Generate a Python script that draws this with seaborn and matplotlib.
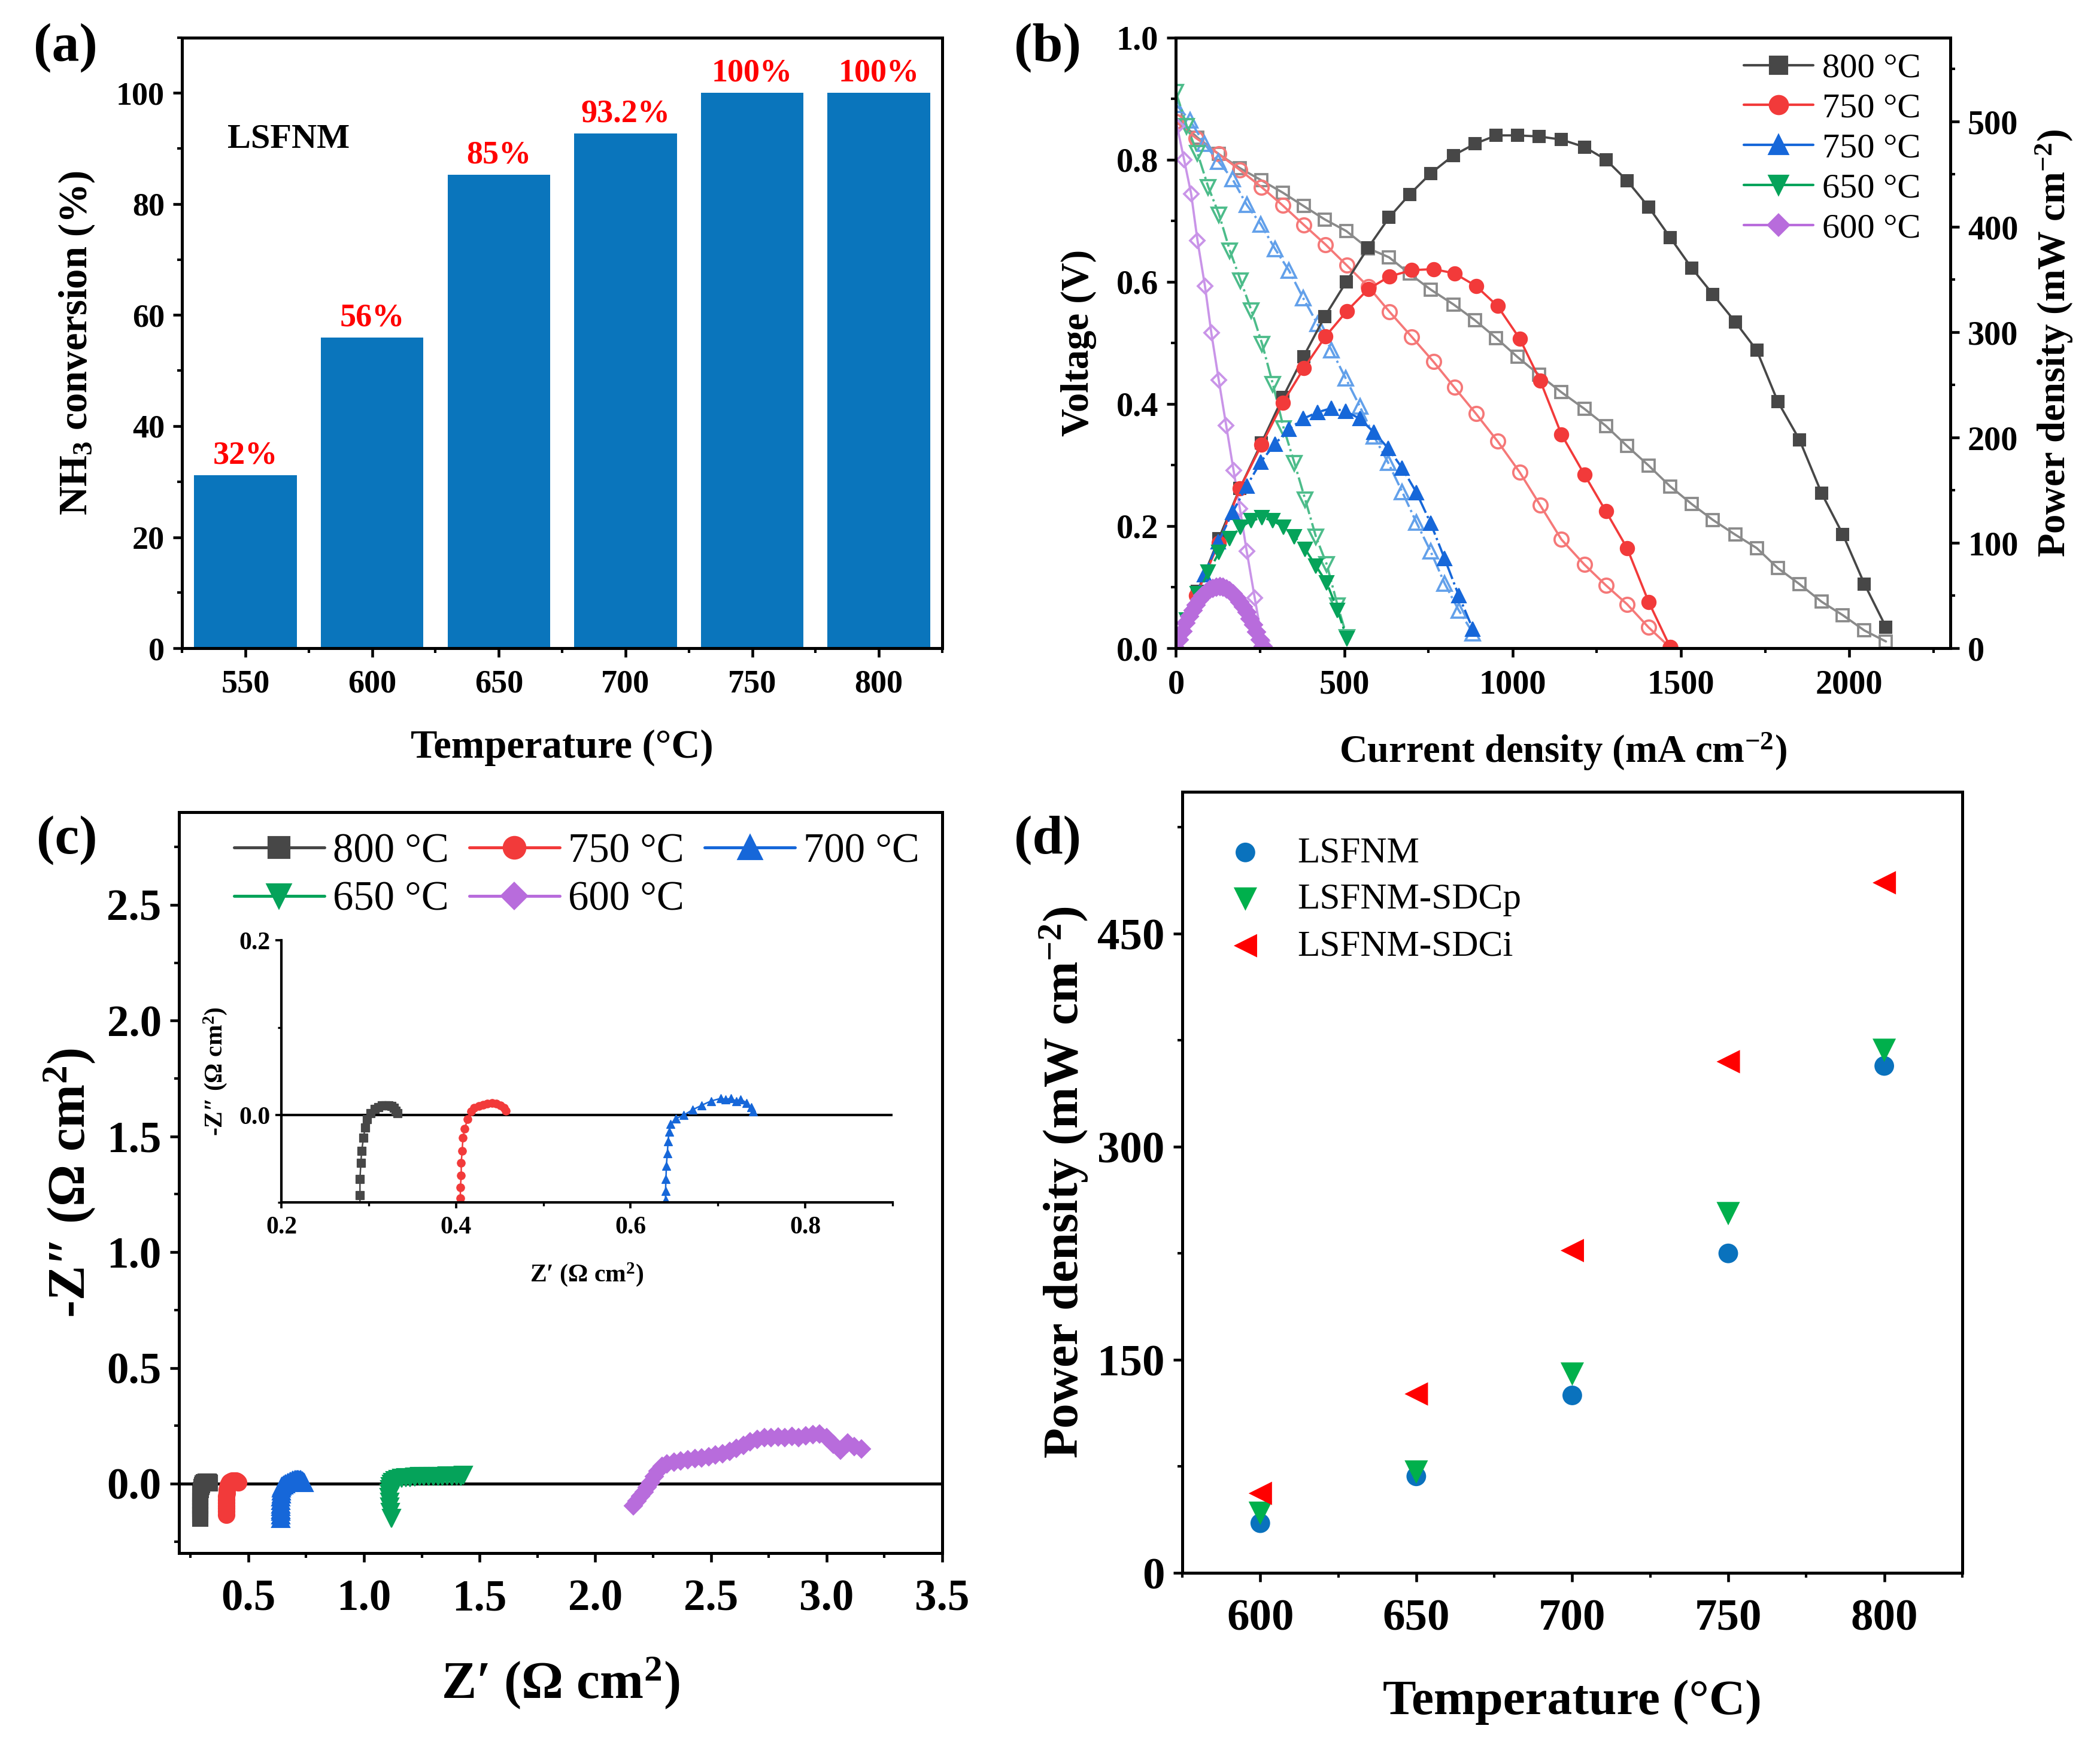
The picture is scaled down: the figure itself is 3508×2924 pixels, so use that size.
import numpy as np
import pandas as pd
import matplotlib
matplotlib.use('Agg')
import matplotlib.pyplot as plt
from matplotlib.lines import Line2D
from matplotlib.ticker import MultipleLocator, FormatStrFormatter
import seaborn as sns

sns.set_theme(style='ticks')
plt.rcParams.update({
    'font.family': ['Liberation Serif', 'DejaVu Serif'],
    'font.weight': 'bold',
    'axes.labelweight': 'bold',
    'mathtext.fontset': 'custom',
    'mathtext.rm': 'Liberation Serif:bold',
    'mathtext.it': 'Liberation Serif:italic:bold',
    'mathtext.bf': 'Liberation Serif:bold',
    'axes.edgecolor': 'black',
    'axes.labelcolor': 'black',
    'text.color': 'black',
    'xtick.color': 'black',
    'ytick.color': 'black',
    'axes.linewidth': 1.2,
    'xtick.direction': 'out',
    'ytick.direction': 'out',
    'xtick.major.size': 3.5,
    'ytick.major.size': 3.5,
    'xtick.minor.size': 2.0,
    'ytick.minor.size': 2.0,
    'xtick.major.width': 1.1,
    'ytick.major.width': 1.1,
    'xtick.minor.width': 1.0,
    'ytick.minor.width': 1.0,
})

# ---------------- data ----------------
# (a) NH3 conversion
temps_a = ['550', '600', '650', '700', '750', '800']
nh3_conv = [31.2, 56.0, 85.3, 92.7, 100.0, 100.0]
conv_labels = ['32%', '56%', '85%', '93.2%', '100%', '100%']

# (b) I-V-P curves (current mA cm-2, voltage V, power mW cm-2)
i_800 = [0, 64, 127, 190, 254, 317, 379, 442, 506, 570, 633, 694, 757, 824, 888, 951, 1014,
         1078, 1145, 1213, 1277, 1340, 1404, 1468, 1532, 1595, 1661, 1725, 1788, 1852, 1918,
         1981, 2045, 2109]
v_800 = [0.868, 0.836, 0.809, 0.786, 0.766, 0.746, 0.724, 0.702, 0.683, 0.655, 0.640, 0.613,
         0.587, 0.563, 0.537, 0.508, 0.477, 0.448, 0.419, 0.392, 0.364, 0.331, 0.299, 0.265,
         0.236, 0.210, 0.186, 0.164, 0.131, 0.105, 0.076, 0.054, 0.029, 0.011]
p_800 = [0, 54, 104, 152, 195, 238, 277, 315, 348, 380, 409, 431, 451, 468, 479, 487, 487, 486,
         483, 476, 464, 444, 419, 390, 361, 336, 310, 283, 234, 198, 147, 108, 61, 20]

i_750 = [0, 60, 127, 190, 254, 317, 380, 444, 507, 571, 634, 700, 765, 827, 891, 955, 1021,
         1082, 1145, 1213, 1277, 1340, 1404, 1468]
v_750 = [0.862, 0.835, 0.809, 0.783, 0.755, 0.725, 0.693, 0.661, 0.627, 0.592, 0.551, 0.510,
         0.469, 0.427, 0.384, 0.339, 0.288, 0.234, 0.178, 0.137, 0.103, 0.072, 0.034, 0.001]
p_750 = [0, 50, 100, 152, 193, 233, 266, 296, 320, 341, 353, 359, 360, 356, 344, 325, 294, 254,
         203, 165, 130, 95, 44, 1]

i_700 = [0, 42, 84, 126, 168, 210, 252, 294, 336, 378, 420, 462, 504, 546, 588, 630, 672, 714,
         756, 798, 840, 882]
v_700 = [0.890, 0.864, 0.826, 0.797, 0.768, 0.726, 0.694, 0.654, 0.618, 0.573, 0.531, 0.488,
         0.442, 0.396, 0.347, 0.304, 0.256, 0.206, 0.159, 0.106, 0.062, 0.025]
p_700 = [0, 37, 70, 101, 129, 154, 177, 194, 208, 218, 224, 228, 225, 218, 205, 190, 171, 148,
         119, 85, 50, 18]

i_650 = [0, 32, 64, 96, 128, 160, 192, 224, 256, 288, 320, 352, 384, 416, 448, 480, 508]
v_650 = [0.910, 0.855, 0.810, 0.755, 0.710, 0.651, 0.602, 0.553, 0.498, 0.432, 0.360, 0.303,
         0.243, 0.182, 0.137, 0.070, 0.018]
p_650 = [0, 27, 52, 72, 91, 104, 115, 121, 124, 121, 115, 106, 94, 78, 62, 36, 9]

i_600v = [3, 24, 45, 64, 86, 105, 127, 149, 171, 190, 210, 234, 256]
v_600 = [0.855, 0.800, 0.744, 0.667, 0.593, 0.516, 0.439, 0.365, 0.291, 0.228, 0.159, 0.082, 0.012]
i_600p = [0, 10, 20, 30, 40, 50, 60, 70, 80, 90, 100, 110, 120, 130, 140, 150, 160, 170, 180,
          190, 200, 210, 220, 230, 240, 250, 258]
p_600 = [0, 8, 16, 24, 30, 36, 41, 46, 50, 53, 55.5, 57, 58, 58.5, 58, 56.5, 54.5, 51.5, 48, 44,
         39.5, 34, 28, 22, 15.5, 8, 2]

# (c) Nyquist plots (Z' , -Z'')
zr_800 = [0.290, 0.290, 0.290, 0.290, 0.290, 0.290, 0.291, 0.292, 0.294, 0.296, 0.298, 0.302,
          0.307, 0.311, 0.315, 0.319, 0.323, 0.326, 0.329, 0.331, 0.333]
zi_800 = [-0.150, -0.135, -0.120, -0.105, -0.092, -0.073, -0.055, -0.041, -0.026, -0.014, -0.005,
          0.002, 0.007, 0.009, 0.011, 0.011, 0.011, 0.010, 0.008, 0.005, 0.002]
zr_750 = [0.405, 0.405, 0.405, 0.405, 0.405, 0.406, 0.406, 0.407, 0.408, 0.410, 0.413, 0.417,
          0.421, 0.426, 0.431, 0.436, 0.441, 0.446, 0.451, 0.455, 0.457]
zi_750 = [-0.135, -0.120, -0.105, -0.095, -0.083, -0.069, -0.055, -0.041, -0.026, -0.016, -0.005,
          0.004, 0.008, 0.010, 0.012, 0.013, 0.0135, 0.013, 0.011, 0.008, 0.005]
zr_700 = [0.640, 0.640, 0.640, 0.640, 0.640, 0.640, 0.6405, 0.641, 0.642, 0.643, 0.644, 0.646,
          0.652, 0.661, 0.671, 0.681, 0.692, 0.703, 0.709, 0.715, 0.721, 0.726, 0.733, 0.738, 0.740]
zi_700 = [-0.150, -0.135, -0.120, -0.110, -0.0975, -0.087, -0.073, -0.058, -0.044, -0.030, -0.019,
          -0.010, -0.004, 0.000, 0.006, 0.011, 0.016, 0.019, 0.018, 0.019, 0.016, 0.018, 0.014,
          0.009, 0.004]
zr_650 = [1.118, 1.115, 1.112, 1.110, 1.108, 1.108, 1.110, 1.113, 1.118, 1.125, 1.135, 1.148,
          1.162, 1.18, 1.20, 1.22, 1.24, 1.26, 1.28, 1.30, 1.32, 1.34, 1.36, 1.38, 1.40, 1.42, 1.43]
zi_650 = [-0.150, -0.125, -0.100, -0.080, -0.060, -0.042, -0.027, -0.014, -0.003, 0.006, 0.013,
          0.018, 0.022, 0.025, 0.027, 0.028, 0.030, 0.031, 0.030, 0.032, 0.031, 0.032, 0.033,
          0.031, 0.033, 0.032, 0.035]
zr_600 = [2.165, 2.18, 2.195, 2.21, 2.225, 2.24, 2.255, 2.27, 2.29, 2.31, 2.34, 2.37, 2.40, 2.43,
          2.46, 2.49, 2.52, 2.55, 2.58, 2.61, 2.64, 2.67, 2.70, 2.73, 2.76, 2.79, 2.82, 2.85,
          2.88, 2.91, 2.94, 2.97, 3.00, 3.03, 3.06, 3.09, 3.12, 3.15]
zi_600 = [-0.095, -0.075, -0.055, -0.035, -0.015, 0.005, 0.030, 0.055, 0.075, 0.085, 0.092,
          0.098, 0.103, 0.108, 0.112, 0.117, 0.123, 0.13, 0.14, 0.152, 0.165, 0.18, 0.192, 0.198,
          0.2, 0.202, 0.198, 0.205, 0.2, 0.207, 0.212, 0.215, 0.2, 0.17, 0.145, 0.175, 0.16, 0.15]

# (d) peak power density
temps_d = [600, 650, 700, 750, 800]
pd_lsfnm = [35, 68, 125, 225, 357]
pd_sdcp = [42, 71, 140, 253, 368]
pd_sdci = [56, 126, 227, 360, 486]

# ---------------- colours ----------------
C_GRAY, C_GRAY_L = '#474747', '#8a8a8a'
C_RED, C_RED_L = '#f23a3a', '#f57878'
C_BLUE, C_BLUE_L = '#1667d9', '#62a0ea'
C_GREEN, C_GREEN_L = '#05a35a', '#4cbc8a'
C_VIOL, C_VIOL_L = '#b86cdc', '#c994e8'

fig = plt.figure(figsize=(3508 / 300, 2924 / 300))


def bold_ticks(ax, size, pad=3.5):
    ax.tick_params(axis='both', which='both', labelsize=size, top=False, right=False)
    ax.tick_params(axis='x', which='major', pad=pad)
    for lbl in ax.get_xticklabels() + ax.get_yticklabels():
        lbl.set_fontweight('bold')


# ================= (a) =================
axa = fig.add_axes([0.0867, 0.6296, 0.362, 0.349])
sns.barplot(x=temps_a, y=nh3_conv, color='#0a75bc', saturation=1, width=0.81,
            linewidth=0, ax=axa)
for i, (v, lab) in enumerate(zip(nh3_conv, conv_labels)):
    axa.text(i, v + 0.8, lab, ha='center', va='bottom', color='#ff0000',
             fontsize=13, fontweight='bold')
axa.text(-0.14, 91.7, 'LSFNM', ha='left', va='center', fontsize=14, fontweight='bold')
axa.set_xlim(-0.5, 5.5)
axa.set_ylim(0, 110)
axa.yaxis.set_major_locator(MultipleLocator(20))
axa.yaxis.set_minor_locator(MultipleLocator(10))
axa.set_xticks(np.arange(-0.5, 6.0, 1.0), minor=True)
axa.set_xlabel('Temperature (°C)', fontsize=16, labelpad=12)
axa.set_ylabel('NH$_3$ conversion (%)', fontsize=16, labelpad=8)
bold_ticks(axa, 13, pad=5)

# ================= (b) =================
axb = fig.add_axes([0.560, 0.6296, 0.3687, 0.349])
axr = axb.twinx()
series_b = [
    (i_800, v_800, i_800, p_800, C_GRAY, C_GRAY_L, 's', 5.0, '-'),
    (i_750, v_750, i_750, p_750, C_RED, C_RED_L, 'o', 5.6, '-'),
    (i_700, v_700, i_700, p_700, C_BLUE, C_BLUE_L, '^', 5.8, '-.'),
    (i_650, v_650, i_650, p_650, C_GREEN, C_GREEN_L, 'v', 5.8, '-.'),
    (i_600v, v_600, i_600p, p_600, C_VIOL, C_VIOL_L, 'D', 4.2, '-'),
]
for iv, vv, ip, pp, col, col_l, mk, ms, ls in series_b:
    sns.lineplot(x=iv, y=vv, ax=axb, color=col_l, marker=mk, markersize=ms,
                 markerfacecolor='none', markeredgecolor=col_l, markeredgewidth=0.9,
                 lw=0.9, linestyle=ls, estimator=None, sort=False)
    sns.lineplot(x=ip, y=pp, ax=axr, color=col, marker=mk,
                 markersize=ms + (0.8 if mk == 'D' else 0),
                 markerfacecolor=col, markeredgecolor=col, markeredgewidth=0.5,
                 lw=0.9, linestyle=ls, estimator=None, sort=False)
axb.set_xlim(0, 2300)
axb.set_ylim(0, 1.0)
axr.set_ylim(0, 580)
axb.xaxis.set_major_locator(MultipleLocator(500))
axb.xaxis.set_minor_locator(MultipleLocator(250))
axb.yaxis.set_major_locator(MultipleLocator(0.2))
axb.yaxis.set_minor_locator(MultipleLocator(0.1))
axr.yaxis.set_major_locator(MultipleLocator(100))
axr.yaxis.set_minor_locator(MultipleLocator(50))
axb.set_xlabel('Current density (mA cm$^{-2}$)', fontsize=15.5, labelpad=12)
axb.set_ylabel('Voltage (V)', fontsize=15.5, labelpad=8)
axr.set_ylabel('Power density (mW cm$^{-2}$)', fontsize=15.5, labelpad=6)
bold_ticks(axb, 13.5, pad=5)
axr.tick_params(axis='y', which='both', labelsize=13.5, right=True, left=False)
for lbl in axr.get_yticklabels():
    lbl.set_fontweight('bold')
b_labels = ['800 °C', '750 °C', '750 °C', '650 °C', '600 °C']
b_handles = [Line2D([], [], color=s[4], marker=s[6], markersize=s[7] + 1.5, lw=1.0,
                    markerfacecolor=s[4], markeredgecolor=s[4]) for s in series_b]
axr.legend(b_handles, b_labels, loc='upper left', bbox_to_anchor=(0.733, 0.975),
           frameon=False, borderpad=0, borderaxespad=0, handlelength=2.0,
           handletextpad=0.25, labelspacing=0.24,
           prop={'family': 'Liberation Serif', 'weight': 'normal', 'size': 14})

# ================= (c) =================
axc = fig.add_axes([0.0852, 0.1125, 0.3635, 0.4234])
series_c = [
    (zr_800, zi_800, C_GRAY, 's', 6.0, '800 °C'),
    (zr_750, zi_750, C_RED, 'o', 6.5, '750 °C'),
    (zr_700, zi_700, C_BLUE, '^', 7.0, '700 °C'),
    (zr_650, zi_650, C_GREEN, 'v', 7.0, '650 °C'),
    (zr_600, zi_600, C_VIOL, 'D', 5.0, '600 °C'),
]
for zr, zi, col, mk, ms, lab in series_c:
    sns.lineplot(x=zr, y=zi, ax=axc, color=col, marker=mk, markersize=ms,
                 markerfacecolor=col, markeredgecolor=col, markeredgewidth=0.5,
                 lw=1.0, estimator=None, sort=False)
axc.axhline(0, color='black', lw=1.2, zorder=1)
axc.set_xlim(0.2, 3.5)
axc.set_ylim(-0.3, 2.9)
axc.xaxis.set_major_locator(MultipleLocator(0.5))
axc.xaxis.set_minor_locator(MultipleLocator(0.25))
axc.yaxis.set_major_locator(MultipleLocator(0.5))
axc.yaxis.set_minor_locator(MultipleLocator(0.25))
axc.xaxis.set_major_formatter(FormatStrFormatter('%.1f'))
axc.yaxis.set_major_formatter(FormatStrFormatter('%.1f'))
axc.set_xlabel('Z′ (Ω cm$^{2}$)', fontsize=21, labelpad=14)
axc.set_ylabel('-Z″ (Ω cm$^{2}$)', fontsize=21, labelpad=4)
bold_ticks(axc, 17.5, pad=7)
# legend filled row-wise: 800 750 700 / 650 600
leg_order = [0, 3, 1, 4, 2]
c_handles = [Line2D([], [], color=series_c[k][2], marker=series_c[k][3],
                    markersize=series_c[k][4] + 2, lw=1.2, markerfacecolor=series_c[k][2],
                    markeredgecolor=series_c[k][2]) for k in leg_order]
axc.legend(c_handles, [series_c[k][5] for k in leg_order], loc='upper left', ncol=3,
           bbox_to_anchor=(0.072, 0.972), frameon=False, borderpad=0, borderaxespad=0,
           handlelength=2.2, handletextpad=0.2, columnspacing=0.5, labelspacing=0.25,
           prop={'family': 'Liberation Serif', 'weight': 'normal', 'size': 16.5})

# inset
axi = fig.add_axes([0.134, 0.3129, 0.291, 0.1498])
axi.set_facecolor('none')
for zr, zi, col, mk, ms, lab in series_c[:3]:
    sns.lineplot(x=zr, y=zi, ax=axi, color=col, marker=mk, markersize=3.2,
                 markerfacecolor=col, markeredgecolor=col, markeredgewidth=0.3,
                 lw=0.6, estimator=None, sort=False)
axi.axhline(0, color='black', lw=1.0, zorder=1)
axi.set_xlim(0.2, 0.9)
axi.set_ylim(-0.1, 0.2)
axi.xaxis.set_major_locator(MultipleLocator(0.2))
axi.xaxis.set_minor_locator(MultipleLocator(0.1))
axi.yaxis.set_major_locator(MultipleLocator(0.2))
axi.yaxis.set_minor_locator(MultipleLocator(0.1))
axi.xaxis.set_major_formatter(FormatStrFormatter('%.1f'))
axi.yaxis.set_major_formatter(FormatStrFormatter('%.1f'))
axi.spines['top'].set_visible(False)
axi.spines['right'].set_visible(False)
axi.spines['left'].set_linewidth(1.0)
axi.spines['bottom'].set_linewidth(1.0)
axi.tick_params(which='major', length=2.5, width=0.9, pad=2)
axi.tick_params(which='minor', length=1.5, width=0.8)
axi.set_xlabel('Z′ (Ω cm$^{2}$)', fontsize=10, labelpad=9)
axi.set_ylabel('-Z″ (Ω cm$^{2}$)', fontsize=10, labelpad=4)
bold_ticks(axi, 10, pad=3)

# ================= (d) =================
axd = fig.add_axes([0.563, 0.1012, 0.3714, 0.4463])
sns.scatterplot(x=temps_d, y=pd_lsfnm, ax=axd, color='#0a72bd', marker='o', s=62,
                edgecolor='none', label='LSFNM')
sns.scatterplot(x=temps_d, y=pd_sdcp, ax=axd, color='#00b04c', marker='v', s=88,
                edgecolor='none', label='LSFNM-SDCp')
sns.scatterplot(x=temps_d, y=pd_sdci, ax=axd, color='#ff0000', marker='<', s=88,
                edgecolor='none', label='LSFNM-SDCi')
axd.set_xlim(575, 825)
axd.set_ylim(0, 550)
axd.xaxis.set_major_locator(MultipleLocator(50))
axd.xaxis.set_minor_locator(MultipleLocator(25))
axd.yaxis.set_major_locator(MultipleLocator(150))
axd.yaxis.set_minor_locator(MultipleLocator(75))
axd.set_xlabel('Temperature (°C)', fontsize=20, labelpad=16)
axd.set_ylabel('Power density (mW cm$^{-2}$)', fontsize=20, labelpad=3)
bold_ticks(axd, 18, pad=7)
axd.legend(loc='upper left', bbox_to_anchor=(0.048, 0.943), frameon=False, borderpad=0,
           borderaxespad=0, handlelength=1.4, handletextpad=0.72, labelspacing=0.36,
           prop={'family': 'Liberation Serif', 'weight': 'normal', 'size': 14.7})

# panel letters
for x, y, t in [(0.016, 0.987, '(a)'), (0.483, 0.987, '(b)'),
                (0.0175, 0.534, '(c)'), (0.483, 0.534, '(d)')]:
    fig.text(x, y, t, ha='left', va='top', fontsize=22, fontweight='bold')

fig.savefig('out.png', dpi=300, facecolor='white')
